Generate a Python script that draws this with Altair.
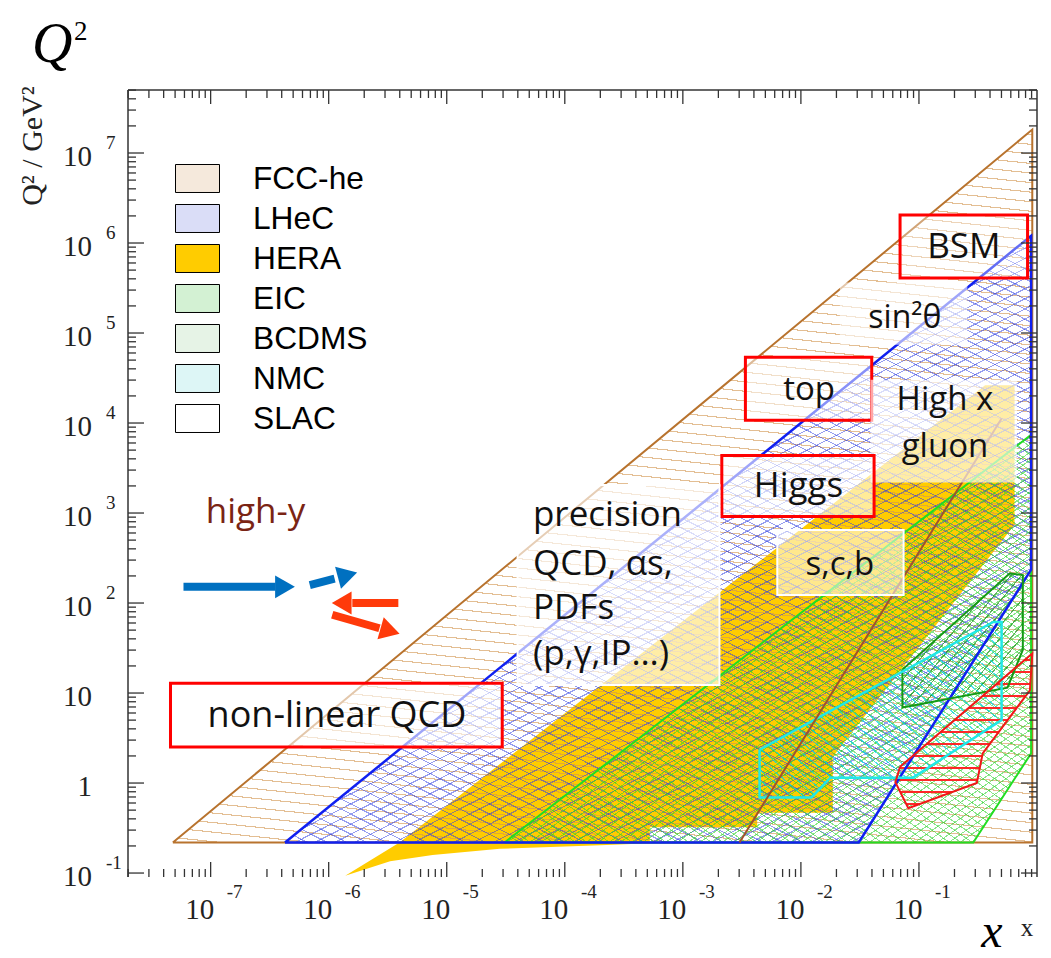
import math
import altair as alt
import pandas as pd

W, H = 909, 787
X_LO, X_HI = -7.7, 0.0
Y_LO, Y_HI = -1.044, 7.7

names = ["FCC-he", "LHeC", "HERA", "EIC", "BCDMS", "NMC", "SLAC"]
legend_colors = ["#F5E9DC", "#DADDF7", "#FFCC00", "#D3F1D3", "#E6F3E6", "#DDF6F6", "#FFFFFF"]

# polygon vertices, log10(x) and log10(Q2)
poly_lx = {
    "FCC-he": [-7.32, -0.04, -0.04, -7.32],
    "LHeC": [-6.37, -0.05, -0.05, -1.51, -6.37],
    "HERA": [-5.86, -5.40, -0.44, -0.19, -0.19, -1.73, -1.73, -2.37, -2.37, -3.28, -3.28, -3.70,
             -4.55, -5.12, -5.48, -5.86],
    "EIC": [-4.51, -0.05, -0.05, -0.54, -4.51],
    "BCDMS": [-1.14, -0.23, -0.12, -0.12, -0.25, -1.14, -1.14],
    "NMC": [-2.35, -0.37, -0.30, -0.30, -1.05, -1.75, -1.91, -2.35, -2.35],
    "SLAC": [-1.16, -0.04, -0.06, -0.14, -0.46, -0.51, -1.09, -1.20, -1.16],
}
poly_lq = {
    "FCC-he": [-0.66, 7.26, -0.66, -0.66],
    "LHeC": [-0.66, 6.08, 2.37, -0.66, -0.66],
    "HERA": [-1.03, -0.66, 4.42, 4.42, 2.87, 0.29, -0.33, -0.33, -0.49, -0.49, -0.67, -0.69,
             -0.73, -0.80, -0.87, -1.03],
    "EIC": [-0.66, 3.87, 0.33, -0.66, -0.66],
    "BCDMS": [1.26, 2.33, 2.31, 1.48, 1.06, 0.84, 1.26],
    "NMC": [0.37, 1.79, 1.79, 0.70, 0.06, 0.06, -0.16, -0.16, 0.37],
    "SLAC": [0.18, 1.44, 1.03, 0.89, 0.33, 0.00, -0.28, 0.01, 0.18],
}
outline_order = ["FCC-he", "EIC", "LHeC", "BCDMS", "NMC", "SLAC"]
outline_colors = {"FCC-he": "#B8732E", "EIC": "#22DD22", "LHeC": "#1020F0",
                  "BCDMS": "#159A15", "NMC": "#20E8E8", "SLAC": "#F01818"}
outline_widths = {"FCC-he": 2, "EIC": 2, "LHeC": 2.5, "BCDMS": 2, "NMC": 2.5, "SLAC": 2}

# hatching styles: (region, angle in degrees, spacing px, line width px, colour)
hatch_styles = [
    ("FCC-he", -6, 9.5, 1.1, "rgba(210,150,80,0.62)"),
    ("LHeC", 27, 9.0, 1.1, "rgba(45,60,225,0.5)"),
    ("LHeC", -27, 9.0, 1.1, "rgba(45,60,225,0.5)"),
    ("EIC", 35, 6.5, 1.0, "rgba(40,210,40,0.55)"),
    ("EIC", -35, 6.5, 1.0, "rgba(40,210,40,0.55)"),
    ("BCDMS", 50, 8.0, 1.1, "rgba(30,150,30,0.7)"),
    ("NMC", -40, 8.0, 1.1, "rgba(0,210,225,0.7)"),
    ("SLAC", 0, 12.0, 1.6, "rgba(255,30,30,0.95)"),
]

# brown line
brown_lx = [-2.52, -0.30]
brown_lq = [-0.66, 4.05]

# translucent boxes
box_names = ["BSM", "sin", "top", "highx", "Higgs", "scb", "prec", "nonlin"]
box_lx1 = [-1.16, -1.67, -2.47, -1.41, -2.67, -2.20, -4.40, -7.34]
box_lx2 = [-0.08, -0.59, -1.40, -0.17, -1.38, -1.13, -2.69, -4.53]
box_lq1 = [6.31, 5.56, 4.73, 4.48, 3.64, 2.81, 3.31, 1.11]
box_lq2 = [5.61, 4.87, 4.03, 3.34, 2.96, 2.09, 1.09, 0.40]
box_stroke = ["#FF0000", "#FFFFFF", "#FF0000", "#FFFFFF", "#FF0000", "#FFFFFF", "#FFFFFF", "#FF0000"]
box_swidth = [3, 0, 3, 0, 3, 2, 2, 3]
box_opac = [0.35, 0.6, 0.5, 0.65, 0.6, 0.55, 0.65, 0.6]

ann_text = ["BSM", "sin\u00b2\u03b8", "top", "High x", "gluon", "Higgs", "s,c,b", "non-linear QCD"]
ann_lx = [-0.62, -1.12, -1.93, -0.78, -0.78, -2.02, -1.67, -5.93]
ann_lq = [5.96, 5.17, 4.37, 4.26, 3.73, 3.30, 2.42, 0.74]
ann_size = [35, 32, 33, 33, 33, 35, 33, 36]

prec_lines = ["precision", "QCD, \u03b1s,", "PDFs", "(p,\u03b3,IP\u2026)"]
prec_lx = -4.27
prec_lq = [2.98, 2.43, 1.95, 1.43]

arr_name = ["b1", "b2", "r1", "r2"]
arr_lx1 = [-7.23, -6.16, -5.41, -5.97]
arr_lq1 = [2.18, 2.20, 2.00, 1.87]
arr_lx2 = [-6.45, -5.95, -5.80, -5.57]
arr_lq2 = [2.18, 2.27, 2.00, 1.72]
head_lx = [-6.37, -5.84, -5.89, -5.48]
head_lq = [2.18, 2.31, 2.00, 1.69]
head_shape = ["triangle-right", "triangle-right", "triangle-left", "triangle-right"]
head_angle = [0, 345, 0, 16]
arr_color = ["#0070C0", "#0070C0", "#FF3A0A", "#FF3A0A"]

xs = alt.Scale(type="log", domain=[10 ** X_LO, 10 ** X_HI], nice=False)
ys = alt.Scale(type="log", domain=[10 ** Y_LO, 10 ** Y_HI], nice=False)


def X(f):
    return alt.X(f, type="quantitative", scale=xs, axis=None)


def Y(f):
    return alt.Y(f, type="quantitative", scale=ys, axis=None)


def px(lx):
    return (lx - X_LO) / (X_HI - X_LO) * W


def py(lq):
    return (Y_HI - lq) / (Y_HI - Y_LO) * H


def hatch_gradient(region, angle, spacing, lw, color):
    xs_ = [px(v) for v in poly_lx[region]]
    ys_ = [py(v) for v in poly_lq[region]]
    w = max(xs_) - min(xs_)
    h = max(ys_) - min(ys_)
    a = math.radians(angle)
    nx, ny = math.sin(a), math.cos(a)
    corners = [(0, 0), (1, 0), (0, 1), (1, 1)]
    vals = [nx * w * u + ny * h * v for u, v in corners]
    fmin = min(vals)
    L = max(vals) - fmin
    p1 = corners[vals.index(fmin)]
    k = (nx * w / L, ny * h / L)
    kk = k[0] ** 2 + k[1] ** 2
    p2 = (p1[0] + k[0] / kk, p1[1] + k[1] / kk)
    stops = [alt.GradientStop(offset=0, color="rgba(0,0,0,0)")]
    n = int(L / spacing) + 1
    off = 0.5 * spacing / L
    for i in range(n):
        s = off + i * spacing / L
        e = s + lw / L
        if e >= 1:
            break
        stops += [alt.GradientStop(offset=round(s, 6), color="rgba(0,0,0,0)"),
                  alt.GradientStop(offset=round(s, 6), color=color),
                  alt.GradientStop(offset=round(e, 6), color=color),
                  alt.GradientStop(offset=round(e, 6), color="rgba(0,0,0,0)")]
    stops.append(alt.GradientStop(offset=1, color="rgba(0,0,0,0)"))
    return alt.Gradient(gradient="linear", x1=p1[0], y1=p1[1], x2=p2[0], y2=p2[1], stops=stops)


rows = []
for n in names:
    for i, (a, b) in enumerate(zip(poly_lx[n], poly_lq[n])):
        rows.append({"exp": n, "i": i, "x": 10 ** a, "q": 10 ** b})
poly = pd.DataFrame(rows)

layers = []
layers.append(
    alt.Chart(poly[poly.exp == "HERA"]).mark_line(fill="#FFCC00", strokeWidth=0, strokeOpacity=0)
    .encode(x=X("x"), y=Y("q"), order=alt.Order("i:Q"))
)
for region, ang, sp, lw, col in hatch_styles:
    layers.append(
        alt.Chart(poly[poly.exp == region]).mark_line(
            fill=hatch_gradient(region, ang, sp, lw, col), strokeWidth=0, strokeOpacity=0
        ).encode(x=X("x"), y=Y("q"), order=alt.Order("i:Q"))
    )

for n in outline_order:
    layers.append(
        alt.Chart(poly[poly.exp == n]).mark_line(
            stroke=outline_colors[n], strokeWidth=outline_widths[n], strokeJoin="miter"
        ).encode(x=X("x"), y=Y("q"), order=alt.Order("i:Q"))
    )

brown = pd.DataFrame({"x": [10 ** v for v in brown_lx], "q": [10 ** v for v in brown_lq]})
layers.append(alt.Chart(brown).mark_line(stroke="#A0522D", strokeWidth=2).encode(x=X("x"), y=Y("q")))

boxes = pd.DataFrame({
    "name": box_names,
    "x1": [10 ** v for v in box_lx1], "x2": [10 ** v for v in box_lx2],
    "q1": [10 ** v for v in box_lq1], "q2": [10 ** v for v in box_lq2],
    "stroke": box_stroke, "sw": box_swidth, "op": box_opac,
})
layers.append(
    alt.Chart(boxes).mark_rect(fill="white").encode(
        x=X("x1"), x2="x2", y=Y("q1"), y2="q2",
        fillOpacity=alt.FillOpacity("op:Q", scale=None),
        stroke=alt.Stroke("stroke:N", scale=None),
        strokeWidth=alt.StrokeWidth("sw:Q", scale=None),
    )
)

sans = "Open Sans"
ann = pd.DataFrame({"t": ann_text, "x": [10 ** v for v in ann_lx], "q": [10 ** v for v in ann_lq],
                    "s": ann_size})
layers.append(
    alt.Chart(ann).mark_text(font=sans, color="#111111", align="center", baseline="middle").encode(
        x=X("x"), y=Y("q"), text="t:N", size=alt.Size("s:Q", scale=None)
    )
)
prec = pd.DataFrame({"t": prec_lines, "x": [10 ** prec_lx] * 4, "q": [10 ** v for v in prec_lq]})
layers.append(
    alt.Chart(prec).mark_text(font=sans, fontSize=35, color="#111111", align="left", baseline="middle").encode(
        x=X("x"), y=Y("q"), text="t:N"
    )
)
hy = pd.DataFrame({"t": ["high-y"], "x": [10 ** -6.62], "q": [10 ** 3.01]})
layers.append(
    alt.Chart(hy).mark_text(font=sans, fontSize=35, color="#7A2414", align="center", baseline="middle").encode(
        x=X("x"), y=Y("q"), text="t:N"
    )
)

arr = pd.DataFrame({
    "n": arr_name,
    "x1": [10 ** v for v in arr_lx1], "q1": [10 ** v for v in arr_lq1],
    "x2": [10 ** v for v in arr_lx2], "q2": [10 ** v for v in arr_lq2],
    "hx": [10 ** v for v in head_lx], "hq": [10 ** v for v in head_lq],
    "shape": head_shape, "ang": head_angle, "c": arr_color,
})
layers.append(
    alt.Chart(arr).mark_rule(strokeWidth=8).encode(
        x=X("x1"), x2="x2", y=Y("q1"), y2="q2", color=alt.Color("c:N", scale=None)
    )
)
layers.append(
    alt.Chart(arr).mark_point(filled=True, opacity=1, size=520).encode(
        x=X("hx"), y=Y("hq"), color=alt.Color("c:N", scale=None),
        shape=alt.Shape("shape:N", scale=None), angle=alt.Angle("ang:Q", scale=None)
    )
)

# legend
leg = pd.DataFrame({"exp": names, "x": [10 ** -3] * 7, "q": [1.0] * 7})
layers.append(
    alt.Chart(leg).mark_square(opacity=0, size=10).encode(
        x=X("x"), y=Y("q"),
        fill=alt.Fill("exp:N", scale=alt.Scale(domain=names, range=legend_colors), sort=names,
                      legend=alt.Legend(
                          orient="none", legendX=47, legendY=66, title=None,
                          symbolType="M-1,-0.636H1V0.636H-1Z", symbolSize=1936,
                          symbolStrokeColor="black", symbolStrokeWidth=1, symbolOpacity=1,
                          labelFont="Liberation Sans", labelFontSize=31.7, labelColor="black",
                          labelOffset=33, rowPadding=0, padding=0, labelLimit=0,
                      ))
    )
)

# frame and ticks
x_major = [10.0 ** e for e in range(-7, 0)]
x_minor = [k * 10.0 ** e for e in range(-8, 0) for k in range(2, 10)
           if 10 ** X_LO <= k * 10.0 ** e <= 10 ** X_HI]
y_major = [10.0 ** e for e in range(-1, 8)]
y_minor = [k * 10.0 ** e for e in range(-2, 8) for k in range(2, 10)
           if 10 ** Y_LO <= k * 10.0 ** e <= 10 ** Y_HI]

frame = pd.DataFrame({"d": [0]})
fr = dict(color="#333333", strokeWidth=1.5)
layers += [
    alt.Chart(frame).mark_rule(**fr).encode(x=alt.value(0), y=alt.value(0), y2=alt.value(H)),
    alt.Chart(frame).mark_rule(**fr).encode(x=alt.value(W), y=alt.value(0), y2=alt.value(H)),
    alt.Chart(frame).mark_rule(**fr).encode(x=alt.value(0), x2=alt.value(W), y=alt.value(0)),
]

xmaj_df = pd.DataFrame({"v": x_major})
xmin_df = pd.DataFrame({"v": x_minor})
ymaj_df = pd.DataFrame({"v": y_major})
ymin_df = pd.DataFrame({"v": y_minor})
tk = dict(color="#333333", strokeWidth=1.3)
layers += [
    alt.Chart(xmaj_df).mark_rule(**tk).encode(x=X("v"), y=alt.value(H), y2=alt.value(H - 15)),
    alt.Chart(xmin_df).mark_rule(**tk).encode(x=X("v"), y=alt.value(H), y2=alt.value(H - 8)),
    alt.Chart(xmaj_df).mark_rule(**tk).encode(x=X("v"), y=alt.value(0), y2=alt.value(14)),
    alt.Chart(xmin_df).mark_rule(**tk).encode(x=X("v"), y=alt.value(0), y2=alt.value(8)),
    alt.Chart(ymaj_df).mark_rule(**tk).encode(y=Y("v"), x=alt.value(0), x2=alt.value(16)),
    alt.Chart(ymin_df).mark_rule(**tk).encode(y=Y("v"), x=alt.value(0), x2=alt.value(8)),
    alt.Chart(ymaj_df).mark_rule(**tk).encode(y=Y("v"), x=alt.value(W), x2=alt.value(W - 16)),
    alt.Chart(ymin_df).mark_rule(**tk).encode(y=Y("v"), x=alt.value(W), x2=alt.value(W - 8)),
]

x_lab_exp = ["-7", "-6", "-5", "-4", "-3", "-2", "-1"]
xl = pd.DataFrame({"v": x_major, "b": ["10"] * 7, "e": x_lab_exp})
serif = "Liberation Serif"
layers.append(alt.Chart(xl).mark_text(font=serif, fontSize=29, color="#222222", dx=-11,
                                      baseline="middle").encode(x=X("v"), y=alt.value(H + 33), text="b:N"))
layers.append(alt.Chart(xl).mark_text(font=serif, fontSize=19, color="#222222", dx=24,
                                      baseline="middle").encode(x=X("v"), y=alt.value(H + 15), text="e:N"))

y_lab_base = ["10", "1", "10", "10", "10", "10", "10", "10", "10"]
y_lab_exp = ["-1", "", "", "2", "3", "4", "5", "6", "7"]
yl = pd.DataFrame({"v": y_major, "b": y_lab_base, "e": y_lab_exp})
layers.append(alt.Chart(yl).mark_text(font=serif, fontSize=29, color="#222222", align="right", dy=4,
                                      baseline="middle").encode(y=Y("v"), x=alt.value(-36), text="b:N"))
layers.append(alt.Chart(yl).mark_text(font=serif, fontSize=19, color="#222222", align="left", dy=-10,
                                      baseline="middle").encode(y=Y("v"), x=alt.value(-22), text="e:N"))

tdf = pd.DataFrame({"d": [0]})
layers += [
    alt.Chart(tdf).mark_text(font=serif, fontStyle="italic", fontSize=56, align="left",
                             baseline="alphabetic", color="black", text="Q").encode(
        x=alt.value(-96), y=alt.value(-28)),
    alt.Chart(tdf).mark_text(font=serif, fontSize=27, align="left", baseline="alphabetic",
                             color="black", text="2").encode(x=alt.value(-54), y=alt.value(-50)),
    alt.Chart(tdf).mark_text(font=serif, fontSize=30, angle=270, align="center", baseline="middle",
                             color="#222222", text="Q\u00b2 / GeV\u00b2").encode(
        x=alt.value(-95), y=alt.value(56)),
    alt.Chart(tdf).mark_text(font=serif, fontStyle="italic", fontSize=48, align="center",
                             baseline="alphabetic", color="black", text="x").encode(
        x=alt.value(864), y=alt.value(857)),
    alt.Chart(tdf).mark_text(font=serif, fontSize=25, align="center", baseline="alphabetic",
                             color="#222222", text="x").encode(x=alt.value(899), y=alt.value(846)),
]

chart = alt.layer(*layers).properties(
    width=W, height=H,
    padding={"left": 128, "top": 90, "right": 14, "bottom": 81},
    autosize=alt.AutoSizeParams(type="none"),
).configure_view(strokeWidth=0)

chart.save("out.html", embed_options={"renderer": "svg", "actions": False})
